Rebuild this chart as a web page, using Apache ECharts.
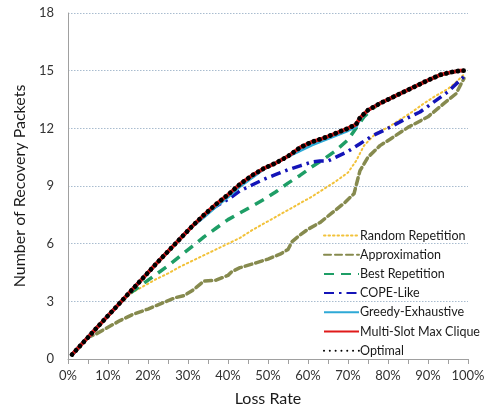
<!DOCTYPE html>
<html><head><meta charset="utf-8">
<script src="https://cdn.jsdelivr.net/npm/echarts@6/dist/echarts.min.js"></script>
<style>html,body{margin:0;padding:0;background:#fff}#c{width:489px;height:413px}</style>
</head><body><div id="c"></div>
<script>
// Loss rate (%) and number of recovery packets
const seriesNames = ['Random Repetition','Approximation','Best Repetition','COPE-Like','Greedy-Exhaustive','Multi-Slot Max Clique','Optimal'];

const optimalX = [1,3,5,7,10,13,16,19,22,25,28,31,34,37,40,43,46,49,52,55,58,61,64,67,70,72,73,75,78,81,84,87,90,93,96,98,99];
const optimalY = [0.23,0.68,1.13,1.58,2.25,2.92,3.6,4.27,4.95,5.6,6.25,6.9,7.5,8.05,8.55,9.1,9.55,9.92,10.2,10.55,11.0,11.3,11.5,11.75,12.0,12.2,12.55,12.95,13.3,13.6,13.9,14.2,14.5,14.78,14.93,15.0,15.0];

const multiSlotX = optimalX;
const multiSlotY = optimalY;

const greedyX = optimalX;
const greedyY = [0.23,0.68,1.13,1.58,2.25,2.92,3.6,4.27,4.95,5.6,6.25,6.9,7.4,7.95,8.45,9.0,9.45,9.9,10.2,10.55,10.85,11.15,11.4,11.65,11.9,12.1,12.5,12.95,13.3,13.6,13.9,14.2,14.5,14.78,14.93,15.0,15.0];

const copeX = [1,3,5,7,10,13,16,19,22,25,28,31,34,37,40,43,46,49,52,55,58,61,63,65,67,70,73,76,80,84,88,91,95,99];
const copeY = [0.23,0.68,1.13,1.58,2.25,2.92,3.6,4.27,4.95,5.6,6.25,6.9,7.45,7.95,8.3,8.75,9.05,9.35,9.6,9.85,10.05,10.25,10.3,10.3,10.5,10.8,11.2,11.6,12.0,12.45,12.85,13.3,13.9,14.7];

const bestX = [1,3,5,7,10,13,16,19,22,25,28,31,34,37,40,43,46,49,52,55,58,61,64,67,70,72,74,76,78,81,84,87,90,93,96,98,99];
const bestY = [0.23,0.68,1.13,1.58,2.25,2.92,3.5,3.95,4.4,4.85,5.35,5.85,6.35,6.8,7.25,7.6,7.95,8.3,8.7,9.15,9.55,10.0,10.4,10.85,11.4,12.0,12.6,13.0,13.3,13.6,13.9,14.2,14.5,14.78,14.93,15.0,15.0];

const randomX = [1,3,5,7,10,13,16,19,22,25,28,31,34,37,40,43,46,49,52,55,58,61,64,67,70,72,74,77,80,83,86,89,92,95,97,99];
const randomY = [0.23,0.68,1.13,1.58,2.25,2.92,3.45,3.8,4.15,4.45,4.8,5.1,5.4,5.7,6.0,6.3,6.7,7.05,7.4,7.75,8.1,8.45,8.85,9.25,9.7,10.3,11.1,11.75,12.05,12.45,12.85,13.3,13.7,14.05,14.4,14.8];

const approxX = [1,3,5,7,10,13,16,20,24,27,29,31,34,37,40,41,43,47,50,53,55,56,58,60,63,66,69,71.5,73,75,78,81,85,90,94,97,99];
const approxY = [0.23,0.68,1.13,1.3,1.65,2.0,2.3,2.6,2.95,3.2,3.3,3.55,4.05,4.1,4.35,4.55,4.75,5.0,5.2,5.45,5.7,6.1,6.45,6.75,7.1,7.6,8.1,8.6,9.8,10.5,11.1,11.5,12.05,12.6,13.3,13.8,14.6];

const yTicks = [0,3,6,9,12,15,18];

function pairs(xs, ys){ return xs.map((x,i)=>[x, ys[i]]); }

const FONT = 'Lato, "Open Sans", sans-serif';
const chart = echarts.init(document.getElementById('c'), null, {renderer:'canvas'});

const styles = [
  {color:'#f2c23a', width:2, type:[1.5,3], cap:'round', x:randomX, y:randomY},
  {color:'#868a4e', width:3.5, type:[7,4], cap:'round', x:approxX, y:approxY},
  {color:'#1e9e66', width:3.5, type:[10,7], cap:'butt', x:bestX, y:bestY},
  {color:'#1414b8', width:3.5, type:[10,5,2.5,5], cap:'butt', x:copeX, y:copeY},
  {color:'#2ea9d6', width:3.5, type:'solid', cap:'butt', x:greedyX, y:greedyY},
  {color:'#e01a1a', width:3.8, type:'solid', cap:'butt', x:multiSlotX, y:multiSlotY},
  {color:'#000000', width:4.8, type:[0.01,5.8], cap:'round', x:optimalX, y:optimalY}
];

const series = seriesNames.map((name,i)=>({
  name, type:'line', symbol:'none', showSymbol:false, smooth:false,
  data: pairs(styles[i].x, styles[i].y),
  lineStyle:{color:styles[i].color, width:styles[i].width, type:styles[i].type, cap:styles[i].cap, join:'round'},
  itemStyle:{color:styles[i].color},
  z: 2+i, animation:false
}));

chart.setOption({
  animation:false,
  grid:{left:68, right:21, top:13, bottom:54, containLabel:false},
  legend:{
    orient:'vertical', left:318, top:224, itemWidth:35, itemHeight:12, itemGap:6.2,
    itemStyle:{opacity:0},
    textStyle:{fontFamily:FONT, fontSize:12.5, color:'#1a1a1a', padding:[0,0,0,-4]},
    data: seriesNames
  },
  xAxis:{
    type:'value', min:0, max:100, interval:10,
    name:'Loss Rate', nameLocation:'middle', nameGap:32,
    nameTextStyle:{fontFamily:FONT, fontSize:16, color:'#1a1a1a'},
    axisLine:{show:true, lineStyle:{color:'#a0a0a0', width:1}},
    axisTick:{show:true, length:5, lineStyle:{color:'#a0a0a0'}},
    minorTick:{show:true, splitNumber:2, length:5, lineStyle:{color:'#a0a0a0'}},
    axisLabel:{formatter:v=>v+'%', fontFamily:FONT, fontSize:13, color:'#333', margin:10},
    splitLine:{show:false}
  },
  yAxis:{
    type:'value', min:0, max:18, interval:3,
    name:'Number of Recovery Packets', nameLocation:'middle', nameGap:40,
    nameTextStyle:{fontFamily:FONT, fontSize:16, color:'#1a1a1a'},
    axisLine:{show:true, lineStyle:{color:'#a0a0a0', width:1}},
    axisTick:{show:false},
    axisLabel:{fontFamily:FONT, fontSize:13, color:'#333', margin:14,
      formatter:v=> yTicks.includes(v) ? String(v) : ''},
    splitLine:{show:true, lineStyle:{color:'#a9bccf', width:1, type:[1.5,1.5]}}
  },
  series
});
</script>
</body></html>
